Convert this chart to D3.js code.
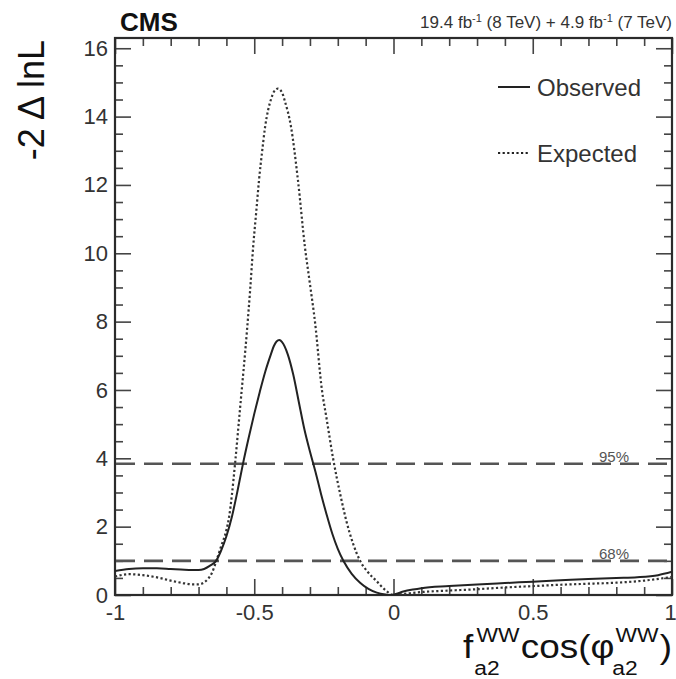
<!DOCTYPE html>
<html>
<head>
<meta charset="utf-8">
<script src="https://cdn.jsdelivr.net/npm/d3@7"></script>
<style>
  html, body { margin: 0; padding: 0; background: #fff; }
  svg { display: block; font-family: "Liberation Sans", Arial, sans-serif; }
</style>
</head>
<body>
<svg id="chart" width="676" height="679"></svg>
<script>
// Likelihood scan in f_a2 cos(phi_a2), WW channel
const obsX = [-1.0, -0.95, -0.90, -0.85, -0.80, -0.75, -0.70, -0.68, -0.66, -0.637, -0.62, -0.60, -0.58, -0.56, -0.54, -0.52, -0.50, -0.48, -0.46, -0.44, -0.43, -0.42, -0.41, -0.40, -0.38, -0.36, -0.34, -0.32, -0.30, -0.28, -0.26, -0.24, -0.22, -0.20, -0.18, -0.15, -0.12, -0.09, -0.06, -0.03, -0.01, 0.0, 0.035, 0.07, 0.10, 0.20, 0.30, 0.40, 0.50, 0.60, 0.70, 0.80, 0.875, 0.95, 1.0];
const obsY = [0.70, 0.76, 0.78, 0.78, 0.76, 0.74, 0.73, 0.76, 0.85, 1.0, 1.28, 1.72, 2.3, 3.05, 3.86, 4.6, 5.3, 5.95, 6.55, 7.05, 7.28, 7.42, 7.46, 7.4, 7.05, 6.45, 5.65, 4.85, 4.2, 3.6, 2.95, 2.35, 1.8, 1.35, 1.0, 0.62, 0.36, 0.18, 0.07, 0.015, 0.0, 0.01, 0.10, 0.16, 0.20, 0.26, 0.31, 0.35, 0.39, 0.43, 0.47, 0.50, 0.52, 0.58, 0.68];

const expX = [-1.0, -0.95, -0.90, -0.84, -0.80, -0.756, -0.72, -0.70, -0.68, -0.666, -0.65, -0.636, -0.62, -0.60, -0.59, -0.58, -0.569, -0.55, -0.526, -0.515, -0.504, -0.493, -0.483, -0.47, -0.461, -0.45, -0.44, -0.43, -0.415, -0.40, -0.39, -0.368, -0.343, -0.318, -0.30, -0.282, -0.257, -0.24, -0.217, -0.19, -0.17, -0.145, -0.12, -0.09, -0.06, -0.03, 0.0, 0.035, 0.107, 0.20, 0.30, 0.40, 0.50, 0.60, 0.70, 0.80, 0.90, 1.0];
const expY = [0.54, 0.61, 0.58, 0.50, 0.42, 0.35, 0.31, 0.31, 0.37, 0.47, 0.68, 1.0, 1.4, 1.9, 2.3, 2.95, 3.84, 5.55, 7.75, 8.9, 10.18, 11.2, 12.13, 13.1, 13.7, 14.2, 14.5, 14.72, 14.82, 14.7, 14.45, 13.7, 12.13, 10.18, 9.1, 8.0, 6.0, 5.15, 4.0, 2.9, 2.19, 1.5, 1.0, 0.65, 0.4, 0.15, 0.0, 0.03, 0.09, 0.13, 0.17, 0.22, 0.26, 0.30, 0.33, 0.36, 0.42, 0.53];

// Confidence-level thresholds for -2 Delta lnL
const clValues = [3.84, 1.0];
const clLabels = ["95%", "68%"];

const xMajor = [-1, -0.5, 0, 0.5, 1];
const xMajorLabels = ["-1", "-0.5", "0", "0.5", "1"];
const yMajor = [0, 2, 4, 6, 8, 10, 12, 14, 16];

const legendNames = ["Observed", "Expected"];

const svg = d3.select("#chart");
const L = 115, R = 672, T = 38, B = 595;
const x = d3.scaleLinear().domain([-1, 1]).range([L, R]);
const y = d3.scaleLinear().domain([0, 16.3]).range([B, T]);

const ink = "#2b2b2b";
const textInk = "#333";

// Minor tick values
const xMinor = d3.range(-10, 11).map(i => i / 10).filter(v => !xMajor.some(m => Math.abs(m - v) < 1e-9));
const yMinor = d3.range(0, 33).map(i => i / 2).filter(v => v % 2 !== 0 && v <= 16.3);

function styleAxis(g) {
  g.select(".domain").remove();
  g.selectAll(".tick line").attr("stroke", "#444").attr("stroke-width", 1.6);
  g.selectAll(".tick text").attr("fill", textInk).style("font-size", "22px")
    .style("font-family", '"Liberation Sans", Arial, sans-serif');
}

// Bottom axis (labelled)
svg.append("g").attr("transform", `translate(0,${B})`)
  .call(d3.axisBottom(x).tickValues(xMajor).tickSize(-16).tickPadding(8)
    .tickFormat((d, i) => xMajorLabels[i]))
  .call(styleAxis)
  .call(g => g.selectAll(".tick text").attr("dy", "0.71em").attr("y", 9))
  .call(g => g.selectAll(".tick").filter(d => d === 1).select("text").attr("x", -2));
svg.append("g").attr("transform", `translate(0,${B})`)
  .call(d3.axisBottom(x).tickValues(xMinor).tickSize(-8).tickFormat(""))
  .call(styleAxis);
// Top axis ticks
svg.append("g").attr("transform", `translate(0,${T})`)
  .call(d3.axisTop(x).tickValues(xMajor).tickSize(-16).tickFormat(""))
  .call(styleAxis);
svg.append("g").attr("transform", `translate(0,${T})`)
  .call(d3.axisTop(x).tickValues(xMinor).tickSize(-8).tickFormat(""))
  .call(styleAxis);
// Left axis (labelled)
svg.append("g").attr("transform", `translate(${L},0)`)
  .call(d3.axisLeft(y).tickValues(yMajor).tickSize(-16).tickPadding(7).tickFormat(d3.format("d")))
  .call(styleAxis);
svg.append("g").attr("transform", `translate(${L},0)`)
  .call(d3.axisLeft(y).tickValues(yMinor).tickSize(-8).tickFormat(""))
  .call(styleAxis);
// Right axis ticks
svg.append("g").attr("transform", `translate(${R},0)`)
  .call(d3.axisRight(y).tickValues(yMajor).tickSize(-16).tickFormat(""))
  .call(styleAxis);
svg.append("g").attr("transform", `translate(${R},0)`)
  .call(d3.axisRight(y).tickValues(yMinor).tickSize(-8).tickFormat(""))
  .call(styleAxis);

// Frame
svg.append("rect").attr("x", L).attr("y", T).attr("width", R - L).attr("height", B - T)
  .attr("fill", "none").attr("stroke", ink).attr("stroke-width", 2.2);

// Confidence-level lines
clValues.forEach((v, i) => {
  svg.append("line").attr("x1", L + 1).attr("x2", R - 1).attr("y1", y(v)).attr("y2", y(v))
    .attr("stroke", "#555").attr("stroke-width", 2.6).attr("stroke-dasharray", "19,9");
  svg.append("text").attr("x", 614).attr("y", y(v) - 1.5).attr("text-anchor", "middle")
    .attr("fill", "#555").style("font-size", "15px").text(clLabels[i]);
});

// Curves
const line = d3.line().x(d => x(d[0])).y(d => y(d[1])).curve(d3.curveMonotoneX);
svg.append("clipPath").attr("id", "plotclip").append("rect")
  .attr("x", L).attr("y", T).attr("width", R - L).attr("height", B - T);

svg.append("path").datum(expX.map((v, i) => [v, expY[i]]))
  .attr("clip-path", "url(#plotclip)")
  .attr("d", line).attr("fill", "none").attr("stroke", "#333")
  .attr("stroke-width", 2.2).attr("stroke-dasharray", "2.2,2.4");
svg.append("path").datum(obsX.map((v, i) => [v, obsY[i]]))
  .attr("clip-path", "url(#plotclip)")
  .attr("d", line).attr("fill", "none").attr("stroke", "#222").attr("stroke-width", 2);

// Legend
const legY = [87, 153];
const legDash = [null, "2.2,2.4"];
legendNames.forEach((name, i) => {
  svg.append("line").attr("x1", 498).attr("x2", 530).attr("y1", legY[i]).attr("y2", legY[i])
    .attr("stroke", "#222").attr("stroke-width", 2).attr("stroke-dasharray", legDash[i]);
  svg.append("text").attr("x", 537).attr("y", legY[i] + 8.5).attr("fill", textInk)
    .style("font-size", "24px").text(name);
});

// Header
svg.append("text").attr("x", 120).attr("y", 31).attr("fill", "#111")
  .style("font-size", "26px").style("font-weight", "bold").text("CMS");
const lumi = svg.append("text").attr("x", R).attr("y", 28).attr("text-anchor", "end")
  .attr("fill", textInk).style("font-size", "17px");
lumi.append("tspan").text("19.4 fb");
lumi.append("tspan").attr("dy", -6).style("font-size", "11px").text("-1");
lumi.append("tspan").attr("dy", 6).text(" (8 TeV) + 4.9 fb");
lumi.append("tspan").attr("dy", -6).style("font-size", "11px").text("-1");
lumi.append("tspan").attr("dy", 6).text(" (7 TeV)");

// Y axis title
svg.append("text").attr("transform", `translate(44,40) rotate(-90)`).attr("text-anchor", "end")
  .attr("fill", "#111").style("font-size", "36px").text("-2 \u0394 lnL");

// X axis title: f_a2^WW cos(phi_a2^WW), flowed left to right then fitted to its span
const xt = svg.append("g").attr("fill", "#111");
const inner = xt.append("g");
const base = 658, big = 34, small = 21;
let cx = 0;
function piece(str, size, dy, dx) {
  const t = inner.append("text").attr("x", cx + dx).attr("y", base + dy)
    .style("font-size", size + "px").text(str);
  return t.node().getComputedTextLength();
}
function scripts(supDx, subDx) {
  const w1 = piece("WW", small, -16, supDx);
  const w2 = piece("a2", small, 17, subDx);
  cx += Math.max(w1 + supDx, w2 + subDx) + 1;
}
cx += piece("f", big, 0, 0) + 2;
scripts(1, -1);
cx += piece("cos(", big, 0, 0);
cx += piece("\u03c6", big, 0, 0) + 1;
scripts(0, -3);
cx += piece(")", big, 0, 0);
const left = 463, right = R;
inner.attr("transform", `translate(${left},0) scale(${(right - left) / cx},1)`);
</script>
</body>
</html>
